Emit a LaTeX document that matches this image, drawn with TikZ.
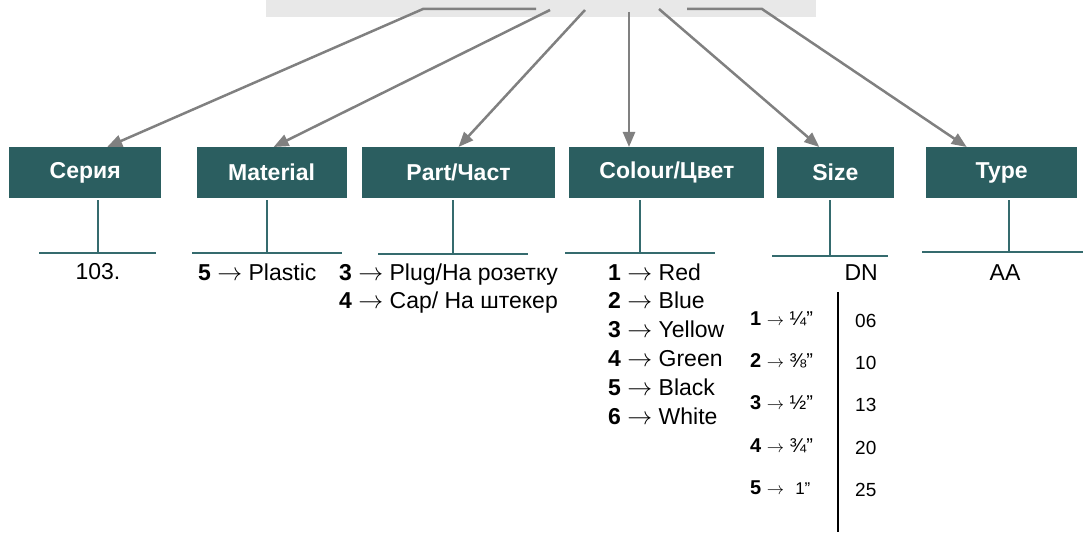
\documentclass[tikz,border=0pt]{standalone}
\usepackage{fontspec}
\setmainfont{Liberation Sans}
\usepackage{tikz}
\usetikzlibrary{arrows.meta, positioning}
\definecolor{boxteal}{HTML}{2B5E60}
\definecolor{stemteal}{HTML}{356B6E}
\definecolor{arrowgray}{HTML}{808080}
\definecolor{srcgray}{HTML}{E8E8E8}
\newcommand{\goesto}{$\rightarrow$}

\begin{document}
\begin{tikzpicture}[
    x=1pt, y=-1pt,
    node distance=6.4pt and 15pt,
    hdr/.style={rectangle, fill=boxteal, text=white, minimum height=51pt, inner sep=0pt, font=\fontsize{23}{28}\selectfont\bfseries},
    item/.style={inner sep=0pt, text height=16pt, text depth=6pt, anchor=west, font=\fontsize{23}{28}\selectfont},
    arrow/.style={-{Triangle[length=15pt, width=12pt]}, line width=2.5pt, arrowgray},
    stem/.style={line width=2pt, stemteal},
    bar/.style={line width=2.5pt, black},
]
\useasboundingbox (0,0) rectangle (1083,534);

% Source bar
\node[rectangle, fill=srcgray, minimum width=550pt, minimum height=22pt, inner sep=0pt, anchor=south west] (src) at (266,17) {};

% Header boxes
\node[hdr, minimum width=152pt, anchor=north west] (serie) at (9,147) {Серия};
\node[hdr, minimum width=150pt, right=35pt of serie] (material) {Material};
\node[hdr, minimum width=193pt, right=15pt of material] (part) {Part/Част};
\node[hdr, minimum width=195pt, right=14pt of part] (colour) {Colour/Цвет};
\node[hdr, minimum width=117pt, right=12pt of colour] (size) {Size};
\node[hdr, minimum width=151pt, right=32pt of size] (type) {Type};

% Arrow start points
\coordinate (s1h) at (536,9);
\coordinate (s1) at (423,9);
\coordinate (s2) at (550,10);
\coordinate (s3) at (585,10);
\coordinate (s4) at (629,12);
\coordinate (s5) at (659,9);
\coordinate (s6h) at (687,9);
\coordinate (s6) at (762,9);

% Arrows
\draw[arrow] (s1h) -- (s1) -- ([xshift=22pt]serie.north);
\draw[arrow] (s2) -- ([xshift=2pt]material.north);
\draw[arrow] (s3) -- (part.north);
\draw[arrow] (s4) -- (colour.north -| s4);
\draw[arrow] (s5) -- ([xshift=-16pt]size.north);
\draw[arrow] (s6h) -- (s6) -- ([xshift=-35pt]type.north);

% Stems
\coordinate (serieB) at (98,253);
\coordinate (materialB) at (267,253);
\coordinate (partB) at (453,254);
\coordinate (colourB) at (640,253);
\coordinate (sizeB) at (830,256);
\coordinate (typeB) at (1009,252);
\draw[stem] ([yshift=-2pt]serie.south -| serieB) -- (serieB);
\draw[stem] ([xshift=-59pt]serieB) -- ([xshift=58pt]serieB);
\draw[stem] ([yshift=-2pt]material.south -| materialB) -- (materialB);
\draw[stem] ([xshift=-75pt]materialB) -- ([xshift=75pt]materialB);
\draw[stem] ([yshift=-2pt]part.south -| partB) -- (partB);
\draw[stem] ([xshift=-75pt]partB) -- ([xshift=75pt]partB);
\draw[stem] ([yshift=-2pt]colour.south -| colourB) -- (colourB);
\draw[stem] ([xshift=-75pt]colourB) -- ([xshift=75pt]colourB);
\draw[stem] ([yshift=-2pt]size.south -| sizeB) -- (sizeB);
\draw[stem] ([xshift=-58pt]sizeB) -- ([xshift=58pt]sizeB);
\draw[stem] ([yshift=-2pt]type.south -| typeB) -- (typeB);
\draw[stem] ([xshift=-87pt]typeB) -- ([xshift=87pt]typeB);

% Values
\node[item, below=10pt of serieB] (serieV) {103.};
\node[item] (m1) at (198,275) {\textbf{5} \goesto\ Plastic};
\node[item] (p1) at (339,275) {\textbf{3} \goesto\ Plug/На розетку};
\node[item, below=6.4pt of p1.south west, anchor=north west] (p2) {\textbf{4} \goesto\ Cap/ На штекер};
\node[item] (c1) at (608,275) {\textbf{1} \goesto\ Red};
\node[item, below=6.4pt of c1.south west, anchor=north west] (c2) {\textbf{2} \goesto\ Blue};
\node[item, below=6.4pt of c2.south west, anchor=north west] (c3) {\textbf{3} \goesto\ Yellow};
\node[item, below=6.4pt of c3.south west, anchor=north west] (c4) {\textbf{4} \goesto\ Green};
\node[item, below=6.4pt of c4.south west, anchor=north west] (c5) {\textbf{5} \goesto\ Black};
\node[item, below=6.4pt of c5.south west, anchor=north west] (c6) {\textbf{6} \goesto\ White};
\node[item, anchor=east] (dn) at (878,275) {DN};
\node[item, anchor=center] (aa) at (1005,275) {AA};

% Size table
\node[item, font=\fontsize{20}{24}\selectfont] (z1) at (750,320) {\textbf{1} {\fontsize{17}{20}\selectfont \goesto} {\fontsize{20}{24}\selectfont ¼”}};
\node[item, font=\fontsize{20}{24}\selectfont, below=20pt of z1.south west, anchor=north west] (z2) {\textbf{2} {\fontsize{17}{20}\selectfont \goesto} {\fontsize{20}{24}\selectfont ⅜”}};
\node[item, font=\fontsize{20}{24}\selectfont, below=20pt of z2.south west, anchor=north west] (z3) {\textbf{3} {\fontsize{17}{20}\selectfont \goesto} {\fontsize{20}{24}\selectfont ½”}};
\node[item, font=\fontsize{20}{24}\selectfont, below=20pt of z3.south west, anchor=north west] (z4) {\textbf{4} {\fontsize{17}{20}\selectfont \goesto} {\fontsize{20}{24}\selectfont ¾”}};
\node[item, font=\fontsize{20}{24}\selectfont, below=20pt of z4.south west, anchor=north west] (z5) {\textbf{5} {\fontsize{17}{20}\selectfont \goesto} \ {\fontsize{17}{20}\selectfont 1”}};
\node[item, font=\fontsize{19}{23}\selectfont] (v1) at (855,322) {06};
\node[item, font=\fontsize{19}{23}\selectfont, below=20pt of v1.south west, anchor=north west] (v2) {10};
\node[item, font=\fontsize{19}{23}\selectfont, below=20pt of v2.south west, anchor=north west] (v3) {13};
\node[item, font=\fontsize{19}{23}\selectfont, below=20pt of v3.south west, anchor=north west] (v4) {20};
\node[item, font=\fontsize{19}{23}\selectfont, below=20pt of v4.south west, anchor=north west] (v5) {25};
\coordinate (barT) at (838,292);
\coordinate (barB) at (838,532);
\draw[bar] (barT) -- (barB);

\end{tikzpicture}
\end{document}
